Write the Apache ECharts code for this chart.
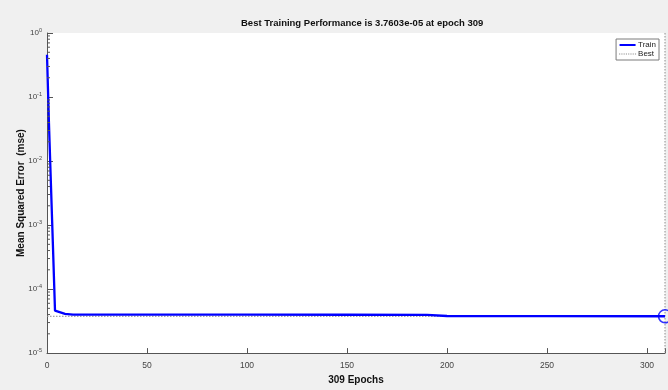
<!DOCTYPE html>
<html>
<head>
<meta charset="utf-8">
<script src="https://cdn.jsdelivr.net/npm/echarts@6/dist/echarts.min.js"></script>
<style>
html,body{margin:0;padding:0;background:#f0f0f0;}
#c{width:668px;height:390px;}
</style>
</head>
<body>
<div id="c"></div>
<script>
// Data
var trainEpochs = [0, 1, 2, 3, 4, 5, 9, 13, 20, 50, 100, 150, 190, 200, 250, 309];
var trainMSE = [0.457, 0.0367, 0.004, 0.00044, 4.6e-5, 4.4e-5, 4.1e-5, 4.0e-5, 3.99e-5, 3.98e-5, 3.98e-5, 3.97e-5, 3.96e-5, 3.8e-5, 3.77e-5, 3.7603e-5];
var bestEpoch = 309;
var bestValue = 3.7603e-5;
var titleText = 'Best Training Performance is 3.7603e-05 at epoch 309';
var xTicks = [0, 50, 100, 150, 200, 250, 300];
var yDecades = [-5, -4, -3, -2, -1, 0];
var minorTickValues = [];
for (var d = -5; d < 0; d++) {
  for (var k = 2; k <= 9; k++) minorTickValues.push(k * Math.pow(10, d));
}

var FONT = '"Liberation Sans", Arial, Helvetica, sans-serif';
var BLUE = '#0000ff';
var GREY = '#8c8c8c';
var chart = echarts.init(document.getElementById('c'), null, {renderer: 'canvas'});

var trainData = trainEpochs.map(function (e, i) { return [e, trainMSE[i]]; });
var bestData = [[0, bestValue], [bestEpoch, bestValue], [null, null], [bestEpoch, 1], [bestEpoch, 1e-5]];

// dotted legend icon
var dotPath = 'path://';
for (var i = 0; i < 8; i++) { dotPath += 'M' + (i * 2) + ',0L' + (i * 2 + 1) + ',0L' + (i * 2 + 1) + ',1L' + (i * 2) + ',1Z'; }

chart.setOption({
  backgroundColor: '#f0f0f0',
  animation: false,
  textStyle: {fontFamily: FONT},
  title: {
    text: titleText,
    left: 236, top: 13,
    textStyle: {fontSize: 9.5, fontWeight: 'bold', color: '#111', fontFamily: FONT}
  },
  grid: {
    left: 47, right: 3, top: 33, bottom: 36,
    show: true, backgroundColor: '#ffffff', borderWidth: 0
  },
  legend: {
    right: 9, top: 39, orient: 'vertical',
    itemGap: 1, itemWidth: 17, itemHeight: 2,
    padding: [2, 3, 2, 3],
    backgroundColor: '#ffffff', borderColor: '#7a7a7a', borderWidth: 1,
    textStyle: {fontSize: 8, color: '#222', fontFamily: FONT, padding: [0, 0, 0, -3], lineHeight: 8},
    data: [{name: 'Train', icon: 'path://M0,0L16,0L16,2L0,2Z', itemStyle: {color: BLUE}},
           {name: 'Best', icon: dotPath, itemStyle: {color: GREY}}],
    align: 'left'
  },
  xAxis: {
    type: 'value', min: 0, max: bestEpoch, interval: 50,
    name: '309 Epochs', nameLocation: 'middle', nameGap: 18,
    nameTextStyle: {fontSize: 10, fontWeight: 'bold', color: '#111', fontFamily: FONT},
    axisLine: {show: true, lineStyle: {color: '#555', width: 1}},
    axisTick: {show: true, inside: true, length: 5, lineStyle: {color: '#555'}},
    axisLabel: {fontSize: 8.5, color: '#444', margin: 8, fontFamily: FONT,
      formatter: function (v) { return xTicks.indexOf(v) >= 0 ? String(v) : ''; }},
    splitLine: {show: false}
  },
  yAxis: {
    type: 'log', logBase: 10, min: 1e-5, max: 1,
    name: 'Mean Squared Error  (mse)', nameLocation: 'middle', nameGap: 21,
    nameMoveOverlap: false,
    nameTextStyle: {fontSize: 10, fontWeight: 'bold', color: '#111', fontFamily: FONT},
    axisLine: {show: true, lineStyle: {color: '#555', width: 1}},
    axisTick: {show: true, inside: true, length: 6, lineStyle: {color: '#555'}},
    axisLabel: {
      margin: 5, color: '#444',
      formatter: function (v) {
        var e = Math.round(Math.log(v) / Math.LN10);
        if (yDecades.indexOf(e) < 0) return '';
        return '{b|10}{s|' + e + '}';
      },
      rich: {
        b: {fontSize: 8, color: '#444', fontFamily: FONT},
        s: {fontSize: 5.5, color: '#444', fontFamily: FONT, padding: [0, 0, 6, 0]}
      }
    },
    splitLine: {show: false}
  },
  series: [
    {
      name: 'Best', type: 'line', data: bestData, symbol: 'none', connectNulls: false,
      lineStyle: {color: GREY, width: 1, type: [1.5, 1.5]},
      itemStyle: {color: GREY}, z: 2, clip: false
    },
    {
      name: 'Train', type: 'line', data: trainData, symbol: 'none',
      lineStyle: {color: BLUE, width: 2.3}, itemStyle: {color: BLUE}, z: 3
    },
    {
      name: 'BestPoint', type: 'scatter', data: [[bestEpoch, bestValue]],
      symbol: 'circle', symbolSize: 13, clip: false,
      itemStyle: {color: 'rgba(0,0,0,0)', borderColor: BLUE, borderWidth: 1.5}, z: 4,
      legendHoverLink: false
    },
    {
      name: 'minorTicks', type: 'custom', clip: false, z: 5,
      data: minorTickValues.map(function (v) { return [0, v]; }),
      renderItem: function (params, api) {
        var p = api.coord([0, api.value(1)]);
        return {type: 'line', shape: {x1: p[0], y1: p[1], x2: p[0] + 3, y2: p[1]},
          style: {stroke: '#555', lineWidth: 1}};
      }
    }
  ]
});
</script>
</body>
</html>
